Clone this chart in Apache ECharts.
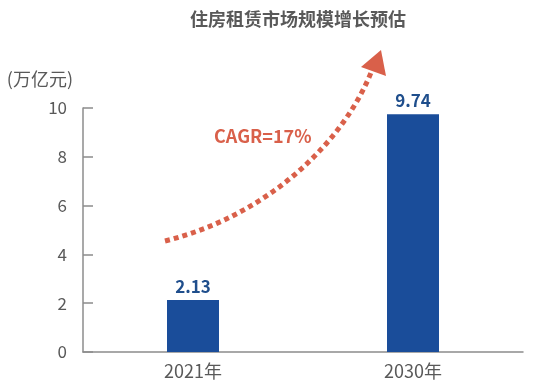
<!DOCTYPE html>
<html><head><meta charset="utf-8">
<script src="https://cdn.jsdelivr.net/npm/echarts@6/dist/echarts.min.js"></script>
<style>html,body{margin:0;padding:0;background:#fff}#c{width:533px;height:384px}</style>
</head><body><div id="c"></div>
<script>
const titleText = '住房租赁市场规模增长预估';
const unitName = '(万亿元)';
const categories = ['2021年', '2030年'];
const values = [2.13, 9.74];
const yTicks = [0, 2, 4, 6, 8, 10];
const cagrText = 'CAGR=17%';

const FONT = '"Noto Sans CJK SC", "Noto Sans", sans-serif';
const chart = echarts.init(document.getElementById('c'));
const arrowColor = '#d9604a';
chart.setOption({
  backgroundColor: '#fff',
  animation: false,
  title: {
    text: titleText, left: 185, top: 5,
    textStyle: {fontFamily: FONT, fontSize: 18, fontWeight: 'bold', color: '#595959'}
  },
  grid: {left: 83, right: 10, top: 108, bottom: 32},
  xAxis: {
    type: 'category', data: categories,
    axisLine: {lineStyle: {color: '#8c8c8c', width: 1.5}},
    axisTick: {inside: true, length: 6, lineStyle: {color: '#8c8c8c', width: 1.5}},
    axisLabel: {fontFamily: FONT, fontSize: 18, color: '#595959', margin: 10}
  },
  yAxis: {
    type: 'value', min: yTicks[0], max: yTicks[yTicks.length - 1], interval: 2,
    name: unitName, nameLocation: 'end', nameGap: 20,
    nameTextStyle: {fontFamily: FONT, fontSize: 18, color: '#595959', align: 'right', padding: [0, 10, 0, 0]},
    axisLine: {show: true, lineStyle: {color: '#8c8c8c', width: 1.5}},
    axisTick: {show: true, inside: true, length: 10, lineStyle: {color: '#8c8c8c', width: 1.5}},
    splitLine: {show: false},
    axisLabel: {fontFamily: FONT, fontSize: 17, color: '#595959', margin: 16}
  },
  series: [{
    type: 'bar', data: values, barWidth: 52,
    itemStyle: {color: '#1a4d9a'},
    label: {show: true, position: 'top', distance: 5, fontFamily: FONT, fontSize: 17, fontWeight: 'bold', color: '#1f4e8c',
      formatter: p => p.value.toFixed(2)}
  }],
  graphic: [
    {type: 'bezierCurve', shape: {x1: 165, y1: 241, x2: 372, y2: 70, cpx1: 270, cpy1: 215, cpx2: 345, cpy2: 140},
     style: {stroke: arrowColor, lineWidth: 5, lineDash: [5, 4], fill: null}},
    {type: 'polygon', shape: {points: [[361, 67], [386, 76], [381, 50]]}, style: {fill: arrowColor}},
    {type: 'text', left: 214, top: 127, style: {text: cagrText, fontFamily: FONT, fontSize: 18, fontWeight: 'bold', fill: arrowColor}}
  ]
});
</script></body></html>
